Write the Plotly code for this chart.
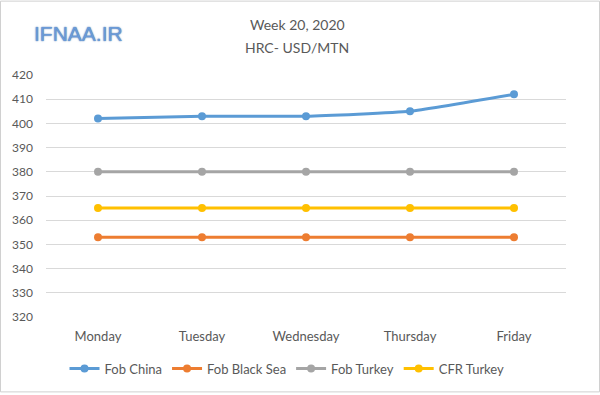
import plotly.graph_objects as go

days = ["Monday", "Tuesday", "Wednesday", "Thursday", "Friday"]
fob_china = [402, 403, 403, 405, 412]
fob_black_sea = [353, 353, 353, 353, 353]
fob_turkey = [380, 380, 380, 380, 380]
cfr_turkey = [365, 365, 365, 365, 365]
y_ticks = [320, 330, 340, 350, 360, 370, 380, 390, 400, 410, 420]

series = [
    ("Fob China", fob_china, "#5b9bd5"),
    ("Fob Black Sea", fob_black_sea, "#ed7d31"),
    ("Fob Turkey", fob_turkey, "#a5a5a5"),
    ("CFR Turkey", cfr_turkey, "#ffc000"),
]

FONT = "Lato"
fig = go.Figure()
for name, vals, col in series:
    fig.add_trace(go.Scatter(
        x=days, y=vals, name=name, mode="lines+markers",
        line=dict(color=col, width=3, shape="spline", smoothing=0.4),
        marker=dict(color=col, size=8),
    ))

L, R, T, B = 46, 34, 75, 76
W, H = 600, 395
pw, ph = W - L - R, H - T - B

fig.update_layout(
    width=W, height=H,
    margin=dict(l=L, r=R, t=T, b=B),
    paper_bgcolor="white", plot_bgcolor="white",
    font=dict(family=FONT, size=12, color="#595959"),
    showlegend=True,
    legend=dict(orientation="h", x=(287 - L) / pw, xanchor="center",
                y=(0 - (371 - (T + ph))) / ph, yanchor="middle",
                font=dict(size=13, color="#595959"), itemwidth=30,
                tracegroupgap=0),
    xaxis=dict(range=[-0.5, 4.5], showgrid=False, zeroline=False,
               showline=False, ticks="", ticklabelstandoff=10,
               tickfont=dict(size=13, color="#595959")),
    yaxis=dict(range=[320, 420], tickvals=y_ticks, showgrid=True,
               gridcolor="#d9d9d9", gridwidth=1, zeroline=False, showline=False,
               ticks="", ticklabelstandoff=12,
               tickfont=dict(size=12, color="#595959")),
    annotations=[
        dict(text="Week 20, 2020", x=(297 - L) / pw, y=1 + (T - 24) / ph,
             xref="paper", yref="paper", showarrow=False,
             xanchor="center", yanchor="middle",
             font=dict(size=14, color="#595959", family=FONT)),
        dict(text="HRC- USD/MTN", x=(297 - L) / pw, y=1 + (T - 47) / ph,
             xref="paper", yref="paper", showarrow=False,
             xanchor="center", yanchor="middle",
             font=dict(size=14, color="#595959", family=FONT)),
        dict(text="IFNAA.IR", x=(78 - L) / pw, y=1 + (T - 33) / ph,
             xref="paper", yref="paper", showarrow=False,
             xanchor="center", yanchor="middle",
             font=dict(size=21, color="#6a9ad8", family="Liberation Sans",
                       shadow="0px 0px 1.5px #2a5a9a")),
    ],
    shapes=[
        dict(type="rect", xref="paper", yref="paper",
             x0=(0.5 - L) / pw, x1=(W - 0.5 - L) / pw,
             y0=-(B - 0.5) / ph, y1=1 + (T - 0.5) / ph,
             line=dict(color="#d0d0d0", width=1), fillcolor="rgba(0,0,0,0)"),
    ],
)

fig.write_html("out.html", config={"displayModeBar": False},
               post_script="document.body.style.margin='0px';document.body.style.overflow='hidden';")
